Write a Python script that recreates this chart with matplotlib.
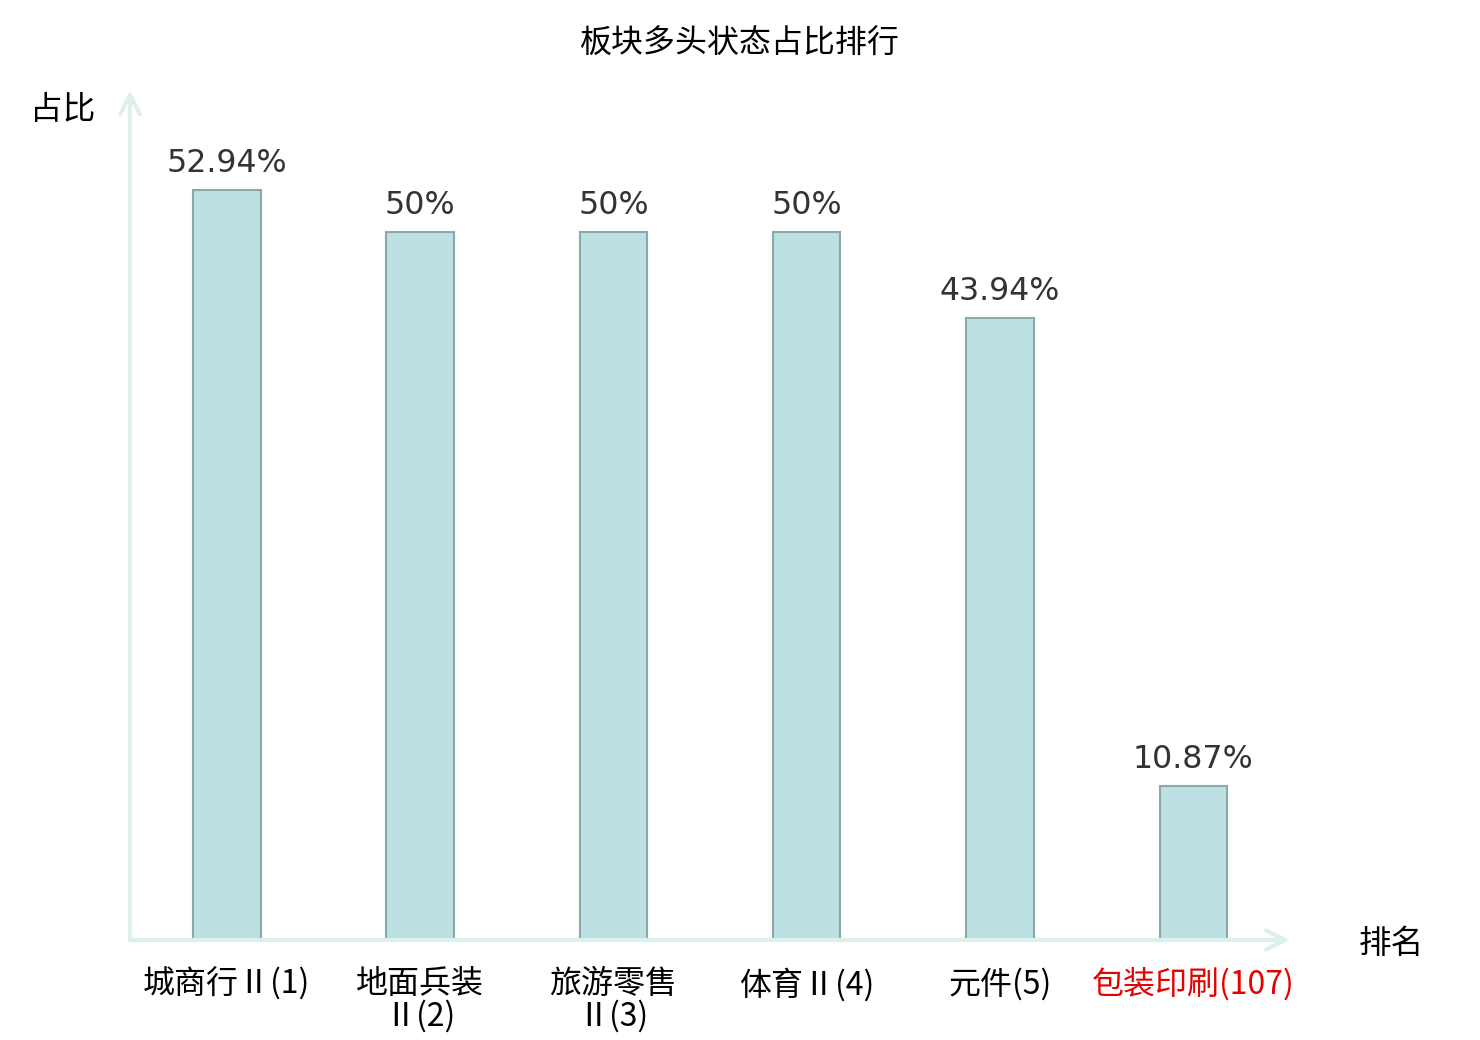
import matplotlib.pyplot as plt
import numpy as np

plt.rcParams['font.family'] = ['Noto Sans CJK SC', 'DejaVu Sans']

# 数据
categories = ['城商行Ⅱ(1)', '地面兵装\nⅡ(2)', '旅游零售\nⅡ(3)', '体育Ⅱ(4)', '元件(5)', '包装印刷(107)']
ratios = [52.94, 50, 50, 50, 43.94, 10.87]
value_labels = ['52.94%', '50%', '50%', '50%', '43.94%', '10.87%']

fig = plt.figure(figsize=(14.8, 10.4), dpi=100)
fig.patch.set_facecolor('white')
ax = fig.add_axes([130 / 1480, 100 / 1040, 1160 / 1480, 850 / 1040])

x = np.arange(len(categories))
ax.bar(x, ratios, width=0.35, color='#bde0e3', edgecolor='#8aa9aa', linewidth=1.5, zorder=2)

# 数值标签
for xi, v, lab in zip(x, ratios, value_labels):
    ax.text(xi, v + 0.75, lab, ha='center', va='bottom', fontsize=22.8,
            color='#333333', family='DejaVu Sans')

ax.set_xlim(-0.5, 5.5)
ax.set_ylim(0, 60)
for s in ax.spines.values():
    s.set_visible(False)
ax.set_yticks([])
ax.set_xticks(x)
ax.set_xticklabels(categories, fontsize=23, linespacing=1.0)
ax.tick_params(axis='x', length=0, pad=20)
ax.get_xticklabels()[-1].set_color('#e60000')

# 坐标轴箭头
axis_color = '#dcf1ee'
ax.annotate('', xy=(1, 0), xytext=(0, 0), xycoords='axes fraction',
            arrowprops=dict(arrowstyle='->', color=axis_color, lw=3, mutation_scale=35,
                            shrinkA=0, shrinkB=0))
ax.annotate('', xy=(0, 1), xytext=(0, 0), xycoords='axes fraction',
            arrowprops=dict(arrowstyle='->', color=axis_color, lw=3, mutation_scale=35,
                            shrinkA=0, shrinkB=0))

fig.text(63 / 1480, 1 - 110 / 1040, '占比', ha='center', va='center', fontsize=23.5)
fig.text(1391 / 1480, 1 - 944 / 1040, '排名', ha='center', va='center', fontsize=23.5)
fig.text(0.5, 1 - 44 / 1040, '板块多头状态占比排行', ha='center', va='center', fontsize=23)

plt.savefig('out.png', dpi=100)
plt.close()
